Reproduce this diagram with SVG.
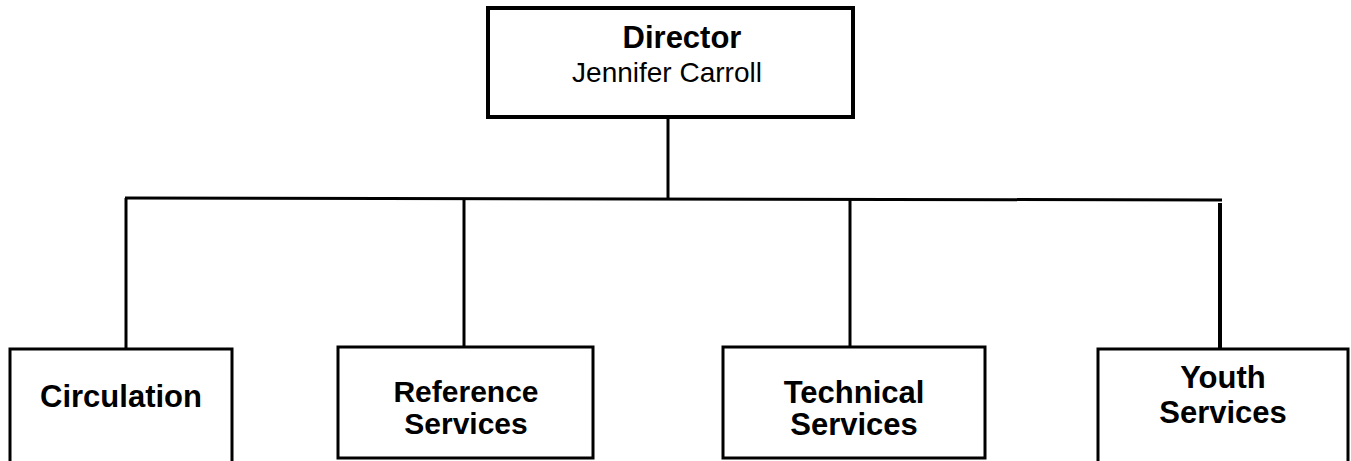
<svg xmlns="http://www.w3.org/2000/svg" width="1351" height="461" viewBox="0 0 1351 461">
<style>
.box{fill:#fff;stroke:#000;stroke-width:3}
.line{stroke:#000;stroke-width:3;fill:none}
.b{font-family:"Liberation Sans",Arial,sans-serif;font-weight:bold;font-size:31px;fill:#000;text-anchor:middle}
.r{font-family:"Liberation Sans",Arial,sans-serif;font-size:28px;fill:#000;text-anchor:middle}
</style>
<rect width="1351" height="461" fill="#fff"/>
<g id="connectors">
<line class="line" x1="668" y1="117" x2="668" y2="200"/>
<line class="line" x1="125" y1="198" x2="1222" y2="200"/>
<line class="line" x1="126" y1="198" x2="126" y2="349"/>
<line class="line" x1="464" y1="198" x2="464" y2="347"/>
<line class="line" x1="850" y1="199" x2="850" y2="347"/>
<line class="line" x1="1220" y1="203" x2="1220" y2="349" style="stroke-width:4"/>
</g>
<g id="director">
<rect class="box" x="488" y="8" width="365" height="109" style="stroke-width:4"/>
<text class="b" x="682" y="48">Director</text>
<text class="r" x="667" y="82">Jennifer Carroll</text>
</g>
<g id="circulation">
<path class="line" d="M10,462 V349 H232 V462"/>
<text class="b" x="121" y="407">Circulation</text>
</g>
<g id="reference">
<rect class="box" x="338" y="347" width="255" height="111"/>
<text class="b" x="466" y="402" style="font-size:30px">Reference</text>
<text class="b" x="466" y="434" style="font-size:30px">Services</text>
</g>
<g id="technical">
<rect class="box" x="723" y="347" width="262" height="111"/>
<text class="b" x="854" y="403">Technical</text>
<text class="b" x="854" y="435">Services</text>
</g>
<g id="youth">
<path class="line" d="M1098,462 V349 H1348 V462"/>
<text class="b" x="1223" y="388">Youth</text>
<text class="b" x="1223" y="423">Services</text>
</g>
</svg>
